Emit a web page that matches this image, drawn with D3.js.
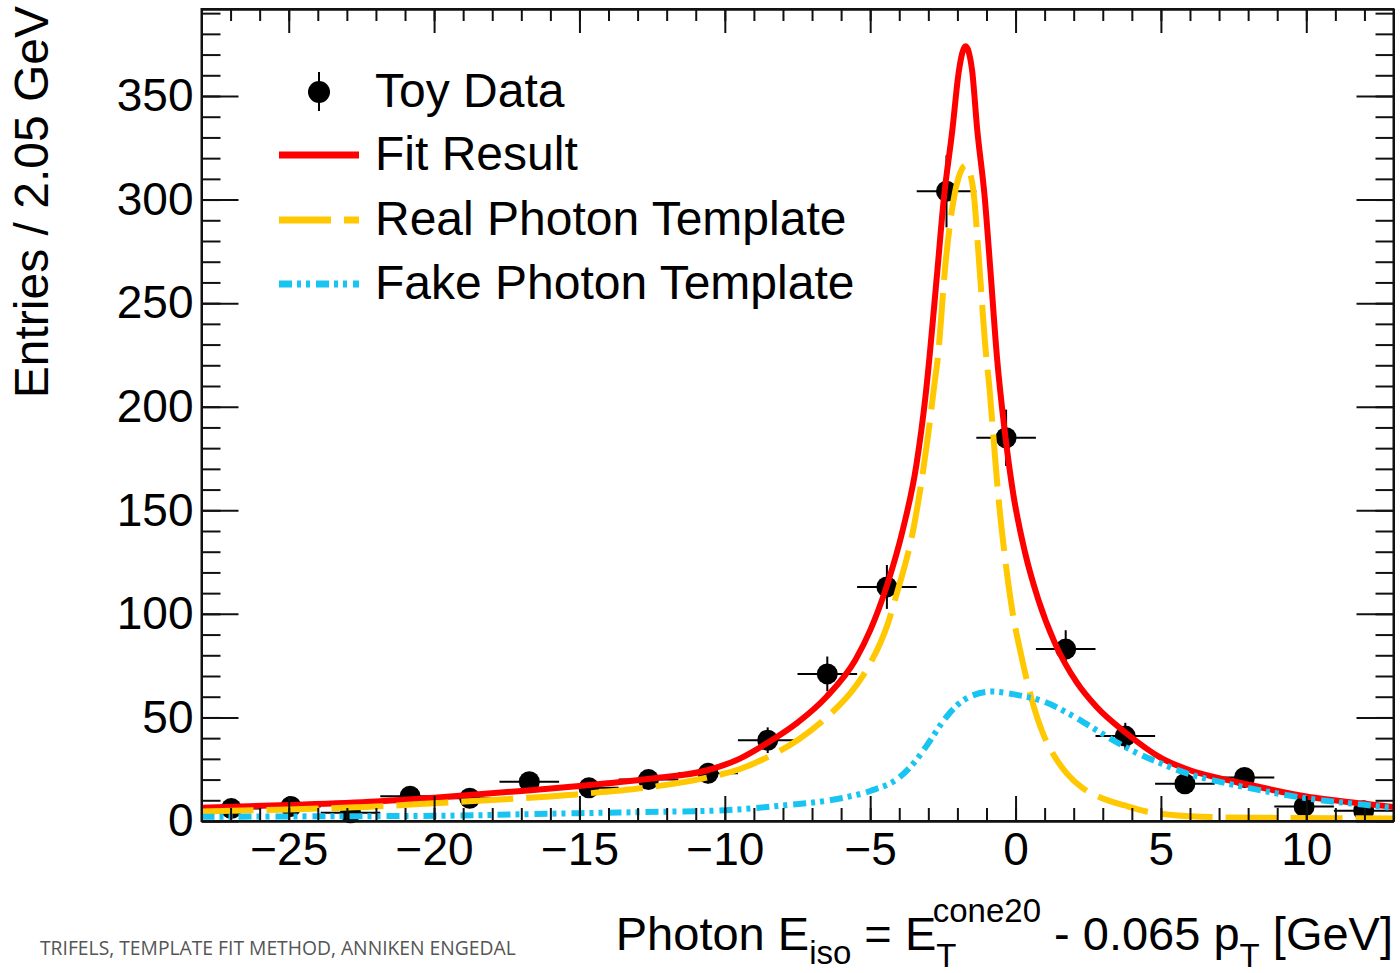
<!DOCTYPE html>
<html lang="en">
<head>
<meta charset="UTF-8">
<title>Template Fit</title>
<style>
  body { margin: 0; background: #fff; }
  svg { display: block; font-family: "Liberation Sans", Arial, sans-serif; }
  .axis text { font-size: 46px; fill: #000; }
  .axis line, .axis path { stroke: #111; stroke-width: 2; }
</style>
</head>
<body>
<div id="chart"></div>
<script src="https://d3js.org/d3.v7.min.js"></script>
<script>
// toy data, 20 bins of 2.05 GeV between -28 and 13
const binCenters = [-26.975, -24.925, -22.875, -20.825, -18.775, -16.725, -14.675, -12.625, -10.575, -8.525,
                    -6.475, -4.425, -2.375, -0.325, 1.725, 3.775, 5.825, 7.875, 9.925, 11.975];
const counts = [6, 7, 4, 12, 11, 19, 16, 20, 23, 39, 71, 113, 304, 185, 83, 41, 18, 21, 7, 5];
const countErrors = [2.4, 2.6, 2, 3.5, 3.3, 4.4, 4, 4.5, 4.8, 6.2, 8.4, 10.6, 17.4, 13.6, 9.1, 6.4, 4.2, 4.6, 2.6, 2.2];
const binHalfWidth = 1.025;

// curves: [x, entries]
const fitResult = [[-28, 6.4], [-25, 7.7], [-22, 9.4], [-20, 11.2], [-17, 14.5], [-15, 16.9], [-12.6, 20.4],
  [-10.6, 24.5], [-9.5, 30], [-8.5, 38], [-7.5, 47.5], [-6.5, 60], [-5.5, 78], [-5.0, 92], [-4.44, 113],
  [-3.87, 141], [-3.41, 172], [-3.09, 206], [-2.7, 264], [-2.47, 300], [-2.17, 334], [-1.95, 362], [-1.72, 374],
  [-1.5, 363], [-1.32, 334], [-1.06, 301], [-0.86, 265], [-0.64, 224], [-0.37, 188], [-0.08, 158], [0.32, 130],
  [0.78, 107], [1.35, 86], [2.1, 67], [2.79, 55], [3.8, 42.5], [5, 30.5], [6, 24.5], [7, 20.7], [8, 17.6],
  [10, 11.8], [12, 8.3], [13, 6.8]];

const realTemplate = [[-28, 4.6], [-25, 5.6], [-22, 7], [-20, 8.6], [-17, 11], [-15, 13], [-12.6, 16.3],
  [-10.6, 21], [-9.5, 25], [-8.5, 31], [-7.5, 39], [-6.5, 50], [-5.5, 65], [-5.0, 76], [-4.4, 95], [-4.1, 109],
  [-3.5, 142], [-3.01, 186], [-2.78, 212], [-2.67, 224], [-2.43, 266], [-2.09, 303], [-1.9, 313], [-1.72, 316.5],
  [-1.55, 312], [-1.44, 303], [-1.25, 269], [-1.02, 226], [-0.89, 208], [-0.77, 187], [-0.6, 158], [-0.37, 128],
  [-0.14, 104], [0.21, 79], [0.55, 59], [0.95, 42], [1.35, 31], [1.76, 23], [2.3, 16], [2.9, 11.5], [3.76, 7.5],
  [4.5, 4.6], [5.4, 2.9], [7, 1.8], [9, 1.5], [13, 1.2]];

const fakeTemplate = [[-28, 2], [-25, 2.2], [-20, 2.5], [-15, 3.8], [-12, 4.5], [-10, 5.2], [-8, 7.5], [-6, 11],
  [-5, 14.5], [-4, 21], [-3.5, 28], [-3, 37.5], [-2.5, 48], [-2, 56], [-1.5, 60.5], [-0.8, 62.5], [0, 61],
  [1, 57.5], [2, 50.5], [3, 42], [3.8, 35.5], [5, 27.8], [6, 22.5], [7, 19], [8, 16], [10, 11], [12, 7.8], [13, 6.3]];

const xMajorTicks = [-25, -20, -15, -10, -5, 0, 5, 10];
const yMajorTicks = [0, 50, 100, 150, 200, 250, 300, 350];
const legendLabels = ["Toy Data", "Fit Result", "Real Photon Template", "Fake Photon Template"];

const width = 1400, height = 973;
const frameLeft = 201.5, frameRight = 1393.5, frameTop = 9, frameBottom = 821;

const svg = d3.select("#chart").append("svg")
  .attr("width", width).attr("height", height);

const x = d3.scaleLinear().domain([-28, 13]).range([frameLeft, frameRight]);
const y = d3.scaleLinear().domain([0, 392]).range([frameBottom, frameTop]);

svg.append("clipPath").attr("id", "frame")
  .append("rect").attr("x", frameLeft).attr("y", frameTop)
  .attr("width", frameRight - frameLeft).attr("height", frameBottom - frameTop);

// data points with error bars
const pts = svg.append("g");
binCenters.forEach((c, i) => {
  const g = pts.append("g").attr("stroke", "#000").attr("stroke-width", 2);
  g.append("line").attr("x1", x(c - binHalfWidth)).attr("x2", x(c + binHalfWidth))
    .attr("y1", y(counts[i])).attr("y2", y(counts[i]));
  g.append("line").attr("x1", x(c)).attr("x2", x(c))
    .attr("y1", y(counts[i] - countErrors[i])).attr("y2", y(counts[i] + countErrors[i]));
  pts.append("circle").attr("cx", x(c)).attr("cy", y(counts[i])).attr("r", 10.5).attr("fill", "#000");
});

// curves
const line = d3.line().x(d => x(d[0])).y(d => y(d[1])).curve(d3.curveMonotoneX);
const curves = svg.append("g").attr("clip-path", "url(#frame)").attr("fill", "none");
const styles = [
  { data: fitResult, color: "#ff0000", dash: null },
  { data: realTemplate, color: "#ffc800", dash: "52,13" },
  { data: fakeTemplate, color: "#18c4f2", dash: "13,5,4,5,4,6" }
];
styles.forEach(s => {
  curves.append("path").datum(s.data).attr("d", line)
    .attr("stroke", s.color).attr("stroke-width", 6)
    .attr("stroke-dasharray", s.dash);
});

// axes
const minorX = d3.range(-27, 13.01, 1);
const minorY = d3.range(0, 391, 10);
svg.append("g").attr("class", "axis").attr("transform", `translate(0,${frameBottom})`)
  .call(d3.axisBottom(x).tickValues(minorX).tickSize(-13).tickSizeOuter(0).tickFormat(""));
svg.append("g").attr("class", "axis").attr("transform", `translate(0,${frameBottom})`)
  .call(d3.axisBottom(x).tickValues(xMajorTicks).tickSize(-25).tickSizeOuter(0).tickPadding(11));
svg.append("g").attr("class", "axis").attr("transform", `translate(0,${frameTop})`)
  .call(d3.axisTop(x).tickValues(minorX).tickSize(-12).tickSizeOuter(0).tickFormat(""));
svg.append("g").attr("class", "axis").attr("transform", `translate(0,${frameTop})`)
  .call(d3.axisTop(x).tickValues(xMajorTicks).tickSize(-24).tickSizeOuter(0).tickFormat(""));
svg.append("g").attr("class", "axis").attr("transform", `translate(${frameLeft},0)`)
  .call(d3.axisLeft(y).tickValues(minorY).tickSize(-19).tickSizeOuter(0).tickFormat(""));
svg.append("g").attr("class", "axis").attr("transform", `translate(${frameLeft},0)`)
  .call(d3.axisLeft(y).tickValues(yMajorTicks).tickSize(-37).tickSizeOuter(0).tickPadding(8));
svg.append("g").attr("class", "axis").attr("transform", `translate(${frameRight},0)`)
  .call(d3.axisRight(y).tickValues(minorY).tickSize(-18).tickSizeOuter(0).tickFormat(""));
svg.append("g").attr("class", "axis").attr("transform", `translate(${frameRight},0)`)
  .call(d3.axisRight(y).tickValues(yMajorTicks).tickSize(-37).tickSizeOuter(0).tickFormat(""));

svg.append("rect").attr("x", frameLeft).attr("y", frameTop)
  .attr("width", frameRight - frameLeft).attr("height", frameBottom - frameTop)
  .attr("fill", "none").attr("stroke", "#111").attr("stroke-width", 2);

// axis titles
svg.append("text").attr("transform", "translate(48,6) rotate(-90)")
  .attr("text-anchor", "end").attr("font-size", 48).text("Entries / 2.05 GeV");

const xt = svg.append("text").attr("x", 1393).attr("y", 950)
  .attr("text-anchor", "end").attr("font-size", 47);
xt.append("tspan").text("Photon E");
xt.append("tspan").attr("font-size", 33).attr("dy", 14).text("iso");
xt.append("tspan").attr("dy", -14).text(" = E");
xt.append("tspan").attr("font-size", 33).attr("dy", 17).text("T");
xt.append("tspan").attr("font-size", 33).attr("dx", -20).attr("dy", -45).text("cone20");
xt.append("tspan").attr("dy", 28).text(" - 0.065 p");
xt.append("tspan").attr("font-size", 33).attr("dy", 17).text("T");
xt.append("tspan").attr("dy", -17).text(" [GeV]");

// legend
const legendY = [92, 155, 220, 284];
const lg = svg.append("g");
lg.append("line").attr("x1", 319).attr("x2", 319).attr("y1", legendY[0] - 20).attr("y2", legendY[0] + 19)
  .attr("stroke", "#000").attr("stroke-width", 2);
lg.append("circle").attr("cx", 319).attr("cy", legendY[0]).attr("r", 11).attr("fill", "#000");
styles.forEach((s, i) => {
  lg.append("line").attr("x1", 279).attr("x2", 359)
    .attr("y1", legendY[i + 1]).attr("y2", legendY[i + 1])
    .attr("stroke", s.color).attr("stroke-width", 7).attr("stroke-dasharray", s.dash);
});
legendLabels.forEach((t, i) => {
  lg.append("text").attr("x", 375).attr("y", legendY[i] + 15).attr("font-size", 48).text(t);
});

// footer
svg.append("text").attr("x", 40).attr("y", 955)
  .attr("font-family", "'Open Sans', sans-serif").attr("font-size", 19.3).attr("fill", "#555")
  .text("TRIFELS, TEMPLATE FIT METHOD, ANNIKEN ENGEDAL");
</script>
</body>
</html>
